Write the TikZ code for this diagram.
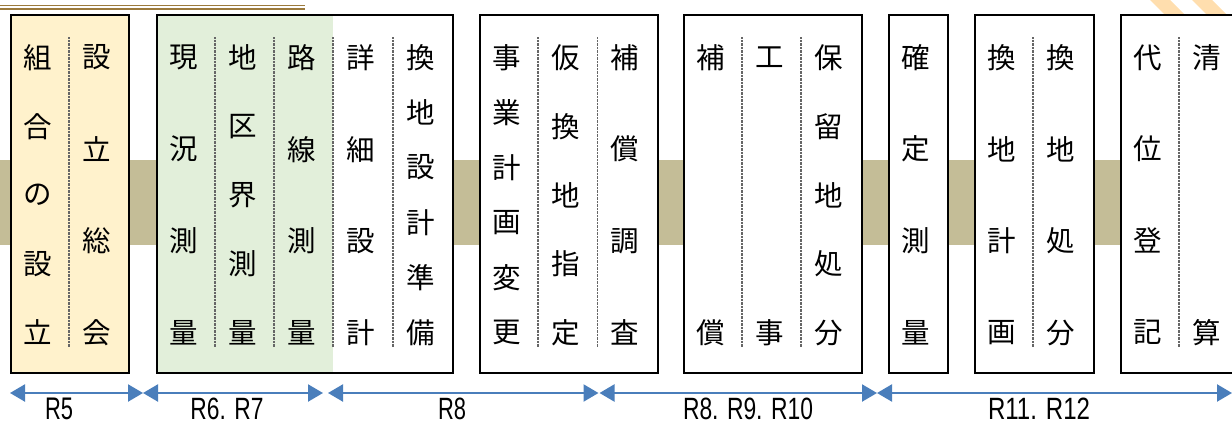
\documentclass[tikz,border=0pt]{standalone}
\usepackage{fontspec}
\usepackage{graphicx}
\setmainfont{Liberation Sans}
\newfontfamily\jpfont{Noto Sans CJK JP}
\usetikzlibrary{arrows.meta}
\definecolor{bandtan}{RGB}{196,189,151}
\definecolor{boxyel}{RGB}{255,242,204}
\definecolor{boxgrn}{RGB}{226,239,218}
\definecolor{arrblue}{RGB}{74,126,187}
\definecolor{decogold}{RGB}{156,122,60}
\definecolor{stripeor}{RGB}{255,200,120}
\newcommand\colchars[4]{%
  \foreach \ch [count=\i] in {#4}{%
    \pgfmathsetmacro\yy{57.5+(\i-1)*275/(#3-1)}%
    \node[jtxt] (#1-\i) at (#2,\yy) {\ch};
  }}
\begin{document}
\begin{tikzpicture}[x=1pt,y=-1pt,
  jtxt/.style={font=\fontsize{28.5}{28.5}\selectfont\jpfont, inner sep=0pt, text=black},
  boxframe/.style={draw=black, line width=2.4pt, inner sep=0pt, anchor=north west},
  divider/.style={draw=gray!80!black, line width=1.3pt, dash pattern=on 0.8pt off 0.6pt},
  period/.style={draw=arrblue, line width=2.2pt, {Triangle[length=15pt,width=17pt]}-{Triangle[length=15pt,width=17pt]}},
  lbl/.style={inner sep=0pt, anchor=north, text=black}]
\useasboundingbox (0,0) rectangle (1232,423);
% background band
\fill[bandtan] (0,160) rectangle (1232,245);
% top decoration
\draw[decogold, line width=1.8pt] (0,5.5) -- (305,5.5);
\draw[decogold, line width=1.8pt] (0,9) -- (305,9);
\begin{scope}
\clip (1130,0) rectangle (1232,14);
\fill[stripeor, opacity=0.6] (1150,0) -- (1170,0) -- (1190,20) -- (1170,20) -- cycle;
\fill[stripeor, opacity=0.6] (1192,0) -- (1212,0) -- (1232,20) -- (1212,20) -- cycle;
\end{scope}
% boxes
\node[boxframe, fill=boxyel, minimum width=118pt, minimum height=358pt] (b1) at (10,13.5) {};
\fill[white] (156,13.5) rectangle (452,371.5);
\fill[boxgrn] (156,13.5) rectangle (333,371.5);
\node[boxframe, minimum width=296pt, minimum height=358pt] (b2) at (156,13.5) {};
\node[boxframe, fill=white, minimum width=178pt, minimum height=358pt] (b3) at (479,13.5) {};
\node[boxframe, fill=white, minimum width=178pt, minimum height=358pt] (b4) at (683,13.5) {};
\node[boxframe, fill=white, minimum width=59pt, minimum height=358pt] (b5) at (888,13.5) {};
\node[boxframe, fill=white, minimum width=119pt, minimum height=358pt] (b6) at (974,13.5) {};
\node[boxframe, fill=white, minimum width=130pt, minimum height=358pt] (b7) at (1120,13.5) {};
% dividers
\foreach \x in {69,215,274,333,393,538,597.5,742,801,1033,1179}
  \draw[divider] (\x,37) -- (\x,347);
% texts
\colchars{t1}{37.5}{5}{組,合,の,設,立}
\colchars{t2}{96.5}{4}{設,立,総,会}
\colchars{t3}{183.5}{4}{現,況,測,量}
\colchars{t4}{242.5}{5}{地,区,界,測,量}
\colchars{t5}{301.5}{4}{路,線,測,量}
\colchars{t6}{360.5}{4}{詳,細,設,計}
\colchars{t7}{420.5}{6}{換,地,設,計,準,備}
\colchars{t8}{506.5}{6}{事,業,計,画,変,更}
\colchars{t9}{565.5}{5}{仮,換,地,指,定}
\colchars{t10}{625}{4}{補,償,調,査}
\colchars{t11}{710.5}{2}{補,償}
\colchars{t12}{769.5}{2}{工,事}
\colchars{t13}{829}{5}{保,留,地,処,分}
\colchars{t14}{915.5}{4}{確,定,測,量}
\colchars{t15}{1001.5}{4}{換,地,計,画}
\colchars{t16}{1061}{4}{換,地,処,分}
\colchars{t17}{1148}{4}{代,位,登,記}
\colchars{t18}{1207}{2}{清,算}
% period arrows
\coordinate (p0) at (10,393);
\coordinate (p1) at (143,393);
\coordinate (p2) at (323,393);
\coordinate (p3) at (328,393);
\coordinate (p4) at (598.5,393);
\coordinate (p5) at (599.5,393);
\coordinate (p6) at (877,393);
\coordinate (p7) at (1232,393);
\draw[period] (p0) -- (p1);
\draw[period] (p1) -- (p2);
\draw[period] (p3) -- (p4);
\draw[period] (p5) -- (p6);
\draw[period] (p6) -- (p7);
% labels
\node[lbl] (r1) at (59,397.5) {\resizebox{28pt}{21.5pt}{R5}};
\node[lbl] (r2) at (227,397.5) {\resizebox{73pt}{21.5pt}{R6. R7}};
\node[lbl] (r3) at (452,397.5) {\resizebox{28pt}{21.5pt}{R8}};
\node[lbl] (r4) at (748,397.5) {\resizebox{130pt}{21.5pt}{R8. R9. R10}};
\node[lbl] (r5) at (1039,397.5) {\resizebox{102pt}{21.5pt}{R11. R12}};
\end{tikzpicture}
\end{document}
